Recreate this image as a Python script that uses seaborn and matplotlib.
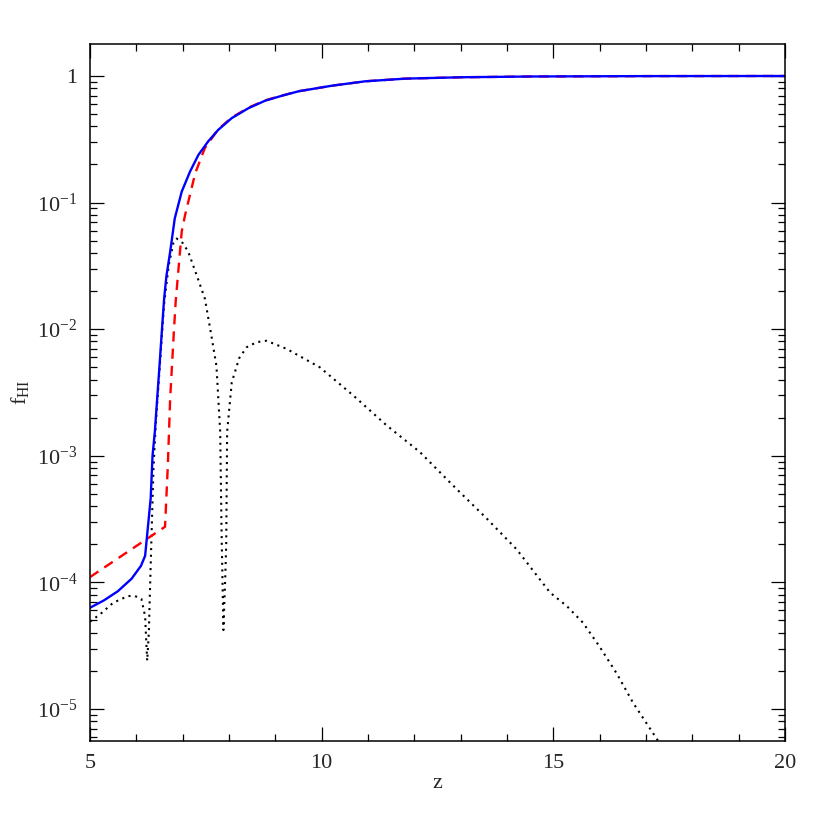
import matplotlib
matplotlib.use("Agg")
import matplotlib.pyplot as plt
import matplotlib.ticker as mticker
import numpy as np
import seaborn as sns

# redshift / neutral fraction curves
z_solid = [5.0, 5.3, 5.6, 5.9, 6.1, 6.19, 6.24, 6.31, 6.35, 6.40, 6.50, 6.55,
           6.60, 6.65, 6.73, 6.83, 6.98, 7.16, 7.34, 7.55, 7.77, 8.06, 8.42,
           8.78, 9.14, 9.50, 10.22, 10.94, 11.80, 13.0, 14.5, 17.0, 20.0]
f_solid = [6.3e-5, 7.2e-5, 8.5e-5, 1.07e-4, 1.35e-4, 1.62e-4, 2.5e-4, 4.6e-4,
           1.0e-3, 1.55e-3, 5.1e-3, 9.5e-3, 1.74e-2, 2.63e-2, 4.07e-2, 7.5e-2,
           0.122, 0.176, 0.238, 0.304, 0.376, 0.465, 0.557, 0.638, 0.698,
           0.757, 0.838, 0.908, 0.953, 0.977, 0.991, 0.998, 1.0]

z_dash = [5.0, 6.62, 6.68, 6.73, 6.81, 6.85, 6.98, 7.05, 7.27, 7.48, 7.77,
          8.06, 8.42, 8.78, 9.14, 9.50, 10.22, 10.94, 11.80, 13.0, 14.5,
          17.0, 20.0]
f_dash = [1.1e-4, 2.75e-4, 8.3e-4, 2.8e-3, 9.5e-3, 1.66e-2, 5.9e-2, 7.9e-2,
          0.17, 0.27, 0.38, 0.47, 0.562, 0.642, 0.70, 0.758, 0.838, 0.908,
          0.953, 0.977, 0.991, 0.998, 1.0]

z_dot = [5.0, 5.22, 5.5, 5.82, 5.97, 6.11, 6.19, 6.22, 6.235, 6.27, 6.29,
         6.33, 6.37, 6.42, 6.52, 6.60, 6.70, 6.80, 6.87, 7.0, 7.12, 7.33,
         7.48, 7.62, 7.73, 7.81, 7.84, 7.88, 7.92, 7.94, 7.96, 8.06, 8.22,
         8.38, 8.6, 8.81, 9.24, 9.96, 10.68, 11.40, 12.12, 12.84, 13.56,
         14.21, 14.93, 15.29, 15.64, 16.0, 16.37, 16.72, 17.26, 17.6]
f_dot = [4.9e-5, 5.6e-5, 6.9e-5, 7.8e-5, 7.8e-5, 7.4e-5, 5.4e-5, 3.1e-5,
         2.4e-5, 4.0e-5, 7.4e-5, 2.45e-4, 7.9e-4, 1.78e-3, 6.0e-3, 1.58e-2,
         3.2e-2, 4.8e-2, 5.2e-2, 4.8e-2, 4.1e-2, 2.5e-2, 1.74e-2, 8.9e-3,
         5.1e-3, 1.55e-3, 2.5e-4, 4.2e-5, 1.12e-4, 1.95e-4, 1.55e-3, 3.8e-3,
         5.9e-3, 7.2e-3, 7.9e-3, 8.1e-3, 7.0e-3, 5.0e-3, 3.0e-3, 1.74e-3,
         1.07e-3, 5.8e-4, 3.2e-4, 1.82e-4, 8.3e-5, 6.5e-5, 4.8e-5, 3.1e-5,
         1.9e-5, 1.12e-5, 5.6e-6, 3.5e-6]

sns.set_style("ticks")
plt.rcParams['font.family'] = ['Liberation Serif', 'DejaVu Serif']
plt.rcParams['mathtext.fontset'] = 'custom'
plt.rcParams['mathtext.rm'] = 'Liberation Serif'
plt.rcParams['mathtext.it'] = 'Liberation Serif:italic'

fig = plt.figure(figsize=(8.3, 8.3), dpi=100)
ax = fig.add_axes([0.1084, 0.1072, 0.8374, 0.8398])

sns.lineplot(x=z_dot, y=f_dot, ax=ax, color='black', lw=1.5,
             linestyle=(0, (1, 2.2)), sort=False, estimator=None)
sns.lineplot(x=z_dash, y=f_dash, ax=ax, color='red', lw=1.7,
             linestyle=(0, (4.3, 3.0)), sort=False, estimator=None)
sns.lineplot(x=z_solid, y=f_solid, ax=ax, color='blue', lw=1.7,
             sort=False, estimator=None)

ax.set_yscale('log')
ax.set_xlim(5, 20)
ax.set_ylim(5.58e-6, 1.79)

ax.xaxis.set_major_locator(mticker.MultipleLocator(5))
ax.xaxis.set_minor_locator(mticker.MultipleLocator(1))
ax.yaxis.set_major_locator(mticker.LogLocator(base=10, numticks=10))
ax.yaxis.set_minor_locator(mticker.LogLocator(base=10, subs=np.arange(2, 10), numticks=20))
ax.yaxis.set_minor_formatter(mticker.NullFormatter())


def ylab(v, pos):
    e = int(round(np.log10(v)))
    return '1' if e == 0 else r'$10^{%d}$' % e


ax.yaxis.set_major_formatter(mticker.FuncFormatter(ylab))

ax.tick_params(which='both', direction='in', top=True, right=True,
               labelsize=16, width=0.9, color='black')
ax.tick_params(which='major', length=10, pad=9)
ax.tick_params(which='minor', length=5)
for s in ax.spines.values():
    s.set_linewidth(1.1)
    s.set_color('black')

ax.set_xlabel('z', fontsize=16, labelpad=1)
ax.set_ylabel(r'$\mathrm{f_{HI}}$', fontsize=16, labelpad=4)

fig.savefig('out.png', dpi=100)
